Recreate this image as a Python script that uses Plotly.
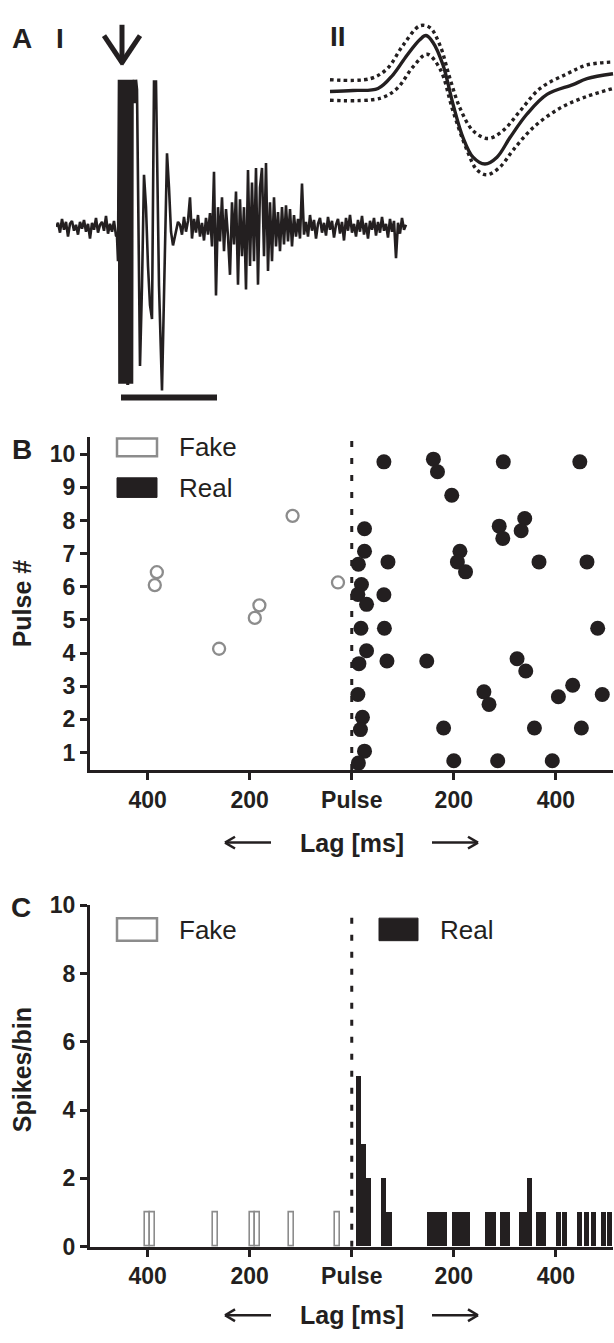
import plotly.graph_objects as go

W, H = 614, 1343
INK = "#231f20"
GRAY = "#8c8c8c"
FONT = "Liberation Sans, Arial, sans-serif"

# ---------------- Panel A-I : raw trace (time in px-units, amplitude in px-units) -------------
TRACE_T = [0, 2, 4, 6, 8, 10, 12, 14, 16, 18, 20, 22, 24, 26, 28, 30, 32, 34, 36, 38, 40, 42, 44, 46,
           48, 50, 52, 54, 56, 58, 60, 61, 62,
           63, 63.5, 64, 64.5, 65, 65.5, 66, 66.5, 67, 67.5, 68, 68.5, 69, 69.5, 70, 70.5, 71, 71.5,
           72, 72.5, 73, 73.5, 74, 74.5, 75, 75.5, 76, 76.5, 77, 78, 79, 80, 81,
           84, 86, 88, 90, 92, 94, 96, 97, 98, 100, 101, 103, 106, 108, 111, 113, 115, 117, 120, 122,
           124, 126, 128, 130, 132, 134, 136, 138, 140, 142, 144, 146, 148, 150, 152, 154, 156, 158,
           160, 162, 164, 166, 168, 170, 172, 174, 176, 178, 180, 182, 184, 186, 188, 190, 192, 194,
           196, 198, 200, 202, 204, 206, 208, 210, 212, 214, 216, 218, 220, 222, 224, 226, 228, 230,
           232, 234, 236, 238, 240, 242, 244, 246,
           248, 250, 252, 254, 256, 258, 260, 262, 264, 266, 268, 270, 272, 274, 276, 278, 280, 282,
           284, 286, 288, 290, 292, 294, 296, 298, 300, 302, 304, 306, 308, 310, 312, 314, 316, 318,
           320, 322, 324, 326, 328, 330, 332, 334, 336, 338, 340, 342, 344, 346, 348, 350]
TRACE_V = [0, 4, -6, 8, -3, 5, -10, 3, 6, -4, 2, -8, 5, -2, 7, -5, 3, -12, 4, -3, 9, -6, 2, 5,
           -4, 11, -7, 3, -5, 6, -9, -10, -35,
           150, -160, 150, -160, 150, -160, 150, -160, 150, -160, 150, -160, 150, -160, 150, -160, 150, -160,
           -160, 150, -160, 150, -160, 150, -160, 150, -160, 150, 128, 150, 126, 150, 140,
           -142, -60, 53, 20, -40, -80, -94, 20, 148, 148, 60, -60, -167, -60, 75, 40, -5, -19, -5, 5,
           2, -8, 10, -5, 6, 30, -12, 8, -6, 12, -10, 4, -14, 9, -8, 14, -20, 56,
           -70, 20, -15, 30, -25, 18, -10, -49, 25, -18, 36, -59, 28, -30, 20, -64, 58, -40,
           45, -35, 60, -59, 40, 60, -30, 65, -45, 25, -35, 30, -20, 15, -25, 20, -18, 22,
           -15, 18, -20, 12, -10, 8, -12, 44,
           -8, 5, -10, 12, -4, 7, -12, 3, 9, -6, 4, -9, 10, -3, 6, -11, 2, 8,
           -7, 5, -14, 9, -4, 12, -6, 3, -10, 7, -5, 11, -8, 4, -12, 6, -3, 9,
           -9, 5, -6, 10, -4, 3, -11, 8, -5, 6, -32, 4, -7, 9, -3, 2]

# ---------------- Panel A-II : averaged waveform with bounds -------------
WAVE_MEAN_T = [0, 23, 48, 63, 77, 90, 96, 103, 113, 123, 133, 143, 155, 167, 180, 197, 217, 243, 257, 283]
WAVE_MEAN_V = [0, 1, 3, 17, 37, 53, 57, 50, 27, -13, -47, -67, -74, -67, -47, -23, -3, 7, 13, 18]
WAVE_UP_T = [0, 40, 57, 73, 90, 100, 110, 120, 130, 143, 158, 173, 190, 210, 237, 257, 283]
WAVE_UP_V = [12, 13, 23, 47, 67, 65, 47, 13, -17, -40, -48, -40, -20, 3, 18, 27, 30]
WAVE_LO_T = [0, 50, 67, 83, 97, 110, 123, 137, 147, 157, 170, 183, 203, 230, 257, 283]
WAVE_LO_V = [-9, -7, 3, 25, 38, 23, -20, -60, -80, -85, -77, -60, -37, -17, -5, 3]

# ---------------- Panel B : raster ----------------
FAKE_LAG = [-382, -386, -260, -190, -181, -116, -27]
FAKE_PULSE = [6.44, 6.05, 4.13, 5.06, 5.44, 8.14, 6.13]
REAL_LAG = [63, 160, 168, 297, 447, 196, 25, 289, 296, 339, 332, 25, 13, 71, 212, 207, 223, 367, 461,
            19, 12, 29, 63, 18, 64, 482, 29, 14, 69, 147, 324, 341, 12, 259, 269, 405, 433, 491,
            21, 17, 180, 358, 450, 25, 13, 200, 286, 393]
REAL_PULSE = [9.77, 9.85, 9.47, 9.77, 9.77, 8.76, 7.75, 7.83, 7.46, 8.06, 7.69, 7.07, 6.68, 6.75, 7.07,
              6.75, 6.45, 6.75, 6.75, 6.07, 5.77, 5.47, 5.76, 4.75, 4.75, 4.75, 4.07, 3.68, 3.76, 3.76,
              3.83, 3.46, 2.75, 2.83, 2.45, 2.68, 3.03, 2.75, 2.06, 1.69, 1.74, 1.74, 1.74, 1.04, 0.68,
              0.75, 0.75, 0.75]

# ---------------- Panel C : histogram ----------------
BIN_W = 10
FAKE_BIN_LAG = [-400, -390, -267, -195, -185, -118, -28]
FAKE_BIN_COUNT = [1, 1, 1, 1, 1, 1, 1]
REAL_BIN_LAG = [13, 23, 33, 63, 73, 152, 162, 172, 182, 201, 211, 221, 227, 267, 277, 295, 305,
                333, 338, 348, 366, 375, 405, 417, 446, 460, 474, 494, 505]
REAL_BIN_COUNT = [5, 3, 2, 2, 1, 1, 1, 1, 1, 1, 1, 1, 1, 1, 1, 1, 1,
                  1, 1, 2, 1, 1, 1, 1, 1, 1, 1, 1, 1]

X_TICKS = [-400, -200, 0, 200, 400]
X_TICK_TEXT = ["400", "200", "Pulse", "200", "400"]
B_Y_TICKS = [1, 2, 3, 4, 5, 6, 7, 8, 9, 10]
C_Y_TICKS = [0, 2, 4, 6, 8, 10]


def fx(px):
    return px / W


def fy(py):
    return 1 - py / H


fig = go.Figure()

# A-I trace
fig.add_trace(go.Scatter(x=TRACE_T, y=TRACE_V, mode="lines", line=dict(color=INK, width=2.6),
                         xaxis="x", yaxis="y", showlegend=False, hoverinfo="skip"))
# A-II waveform
fig.add_trace(go.Scatter(x=WAVE_UP_T, y=WAVE_UP_V, mode="lines",
                         line=dict(color=INK, width=3.4, dash="dot", shape="spline"),
                         xaxis="x2", yaxis="y2", showlegend=False))
fig.add_trace(go.Scatter(x=WAVE_LO_T, y=WAVE_LO_V, mode="lines",
                         line=dict(color=INK, width=3.4, dash="dot", shape="spline"),
                         xaxis="x2", yaxis="y2", showlegend=False))
fig.add_trace(go.Scatter(x=WAVE_MEAN_T, y=WAVE_MEAN_V, mode="lines",
                         line=dict(color=INK, width=3.4, shape="spline"),
                         xaxis="x2", yaxis="y2", showlegend=False))

# B raster
fig.add_trace(go.Scatter(x=[0, 0], y=[0.47, 10.53], mode="lines",
                         line=dict(color=INK, width=3, dash="6px,11px"),
                         xaxis="x3", yaxis="y3", showlegend=False))
fig.add_trace(go.Scatter(x=FAKE_LAG, y=FAKE_PULSE, mode="markers",
                         marker=dict(symbol="circle-open", size=12, color=GRAY, line=dict(width=2.3)),
                         xaxis="x3", yaxis="y3", showlegend=False))
fig.add_trace(go.Scatter(x=REAL_LAG, y=REAL_PULSE, mode="markers",
                         marker=dict(symbol="circle", size=15, color=INK),
                         xaxis="x3", yaxis="y3", showlegend=False))

# C histogram
fig.add_trace(go.Scatter(x=[0, 0], y=[0, 9.65], mode="lines",
                         line=dict(color=INK, width=3, dash="6px,11px"),
                         xaxis="x4", yaxis="y4", showlegend=False))
fig.add_trace(go.Bar(x=FAKE_BIN_LAG, y=FAKE_BIN_COUNT, width=[BIN_W] * len(FAKE_BIN_LAG),
                     marker=dict(color="white", line=dict(color=GRAY, width=1.6)),
                     xaxis="x4", yaxis="y4", showlegend=False))
fig.add_trace(go.Bar(x=REAL_BIN_LAG, y=REAL_BIN_COUNT, width=[BIN_W] * len(REAL_BIN_LAG),
                     marker=dict(color=INK, line=dict(color=INK, width=0)),
                     xaxis="x4", yaxis="y4", showlegend=False))

axis_common = dict(showline=True, linewidth=3, linecolor=INK, ticks="outside", ticklen=7,
                   tickwidth=3, tickcolor=INK, showgrid=False, zeroline=False,
                   tickfont=dict(family=FONT, size=23, color=INK, weight="bold"))

fig.update_layout(
    width=W, height=H, margin=dict(l=0, r=0, t=0, b=0),
    paper_bgcolor="white", plot_bgcolor="white", barmode="overlay", bargap=0,
    xaxis=dict(domain=[fx(56), fx(408)], range=[0, 352], visible=False),
    yaxis=dict(domain=[fy(400), fy(8)], range=[-182, 210], visible=False),
    xaxis2=dict(domain=[fx(320), fx(614)], range=[-10, 284], visible=False),
    yaxis2=dict(domain=[fy(200), fy(0)], range=[-120, 80], visible=False),
    xaxis3=dict(domain=[fx(90), fx(613)], range=[-513, 512], tickvals=X_TICKS, ticktext=X_TICK_TEXT,
                anchor="y3", **axis_common),
    yaxis3=dict(domain=[fy(772), fy(432)], range=[0.47, 10.53], tickvals=B_Y_TICKS,
                anchor="x3", **axis_common),
    xaxis4=dict(domain=[fx(90), fx(613)], range=[-513, 512], tickvals=X_TICKS, ticktext=X_TICK_TEXT,
                anchor="y4", **axis_common),
    yaxis4=dict(domain=[fy(1258), fy(910)], range=[0, 10], tickvals=C_Y_TICKS,
                anchor="x4", **axis_common),
)

shapes = []
ann = []


def text(px, py, s, size, bold=True, anchor="center", angle=0, color=INK):
    ann.append(dict(x=fx(px), y=fy(py), xref="paper", yref="paper", text=s, showarrow=False,
                    xanchor=anchor, yanchor="middle", textangle=angle,
                    font=dict(family=FONT, size=size, color=color, weight="bold" if bold else "normal")))


def line(x0, y0, x1, y1, width, color=INK):
    shapes.append(dict(type="line", xref="paper", yref="paper", x0=fx(x0), y0=fy(y0), x1=fx(x1),
                       y1=fy(y1), line=dict(color=color, width=width)))


def rect(x0, y0, x1, y1, fill, lc, lw):
    shapes.append(dict(type="rect", xref="paper", yref="paper", x0=fx(x0), y0=fy(y0), x1=fx(x1),
                       y1=fy(y1), fillcolor=fill, line=dict(color=lc, width=lw)))


# Panel labels
text(22, 26, "A", 28)
text(60, 26, "I", 28)
text(338, 24, "II", 28)
text(22, 445, "B", 28)
text(21, 912, "C", 28)

# A-I stimulus arrow & scale bar
line(122, 12, 122, 50, 5)
line(104, 23, 123, 52, 5)
line(140, 23, 121, 52, 5)
line(121, 392, 217, 392, 6)

# Axis titles
text(22, 602, "Pulse #", 25, angle=-90)
text(22, 1078, "Spikes/bin", 25, angle=-90)

# Lag labels with arrows
for yy in (846, 1328):
    text(352, yy, "Lag [ms]", 25)
    line(225, yy, 271, yy, 2.5)
    line(225, yy, 235, yy - 6, 2.5)
    line(225, yy, 235, yy + 6, 2.5)
    line(432, yy, 478, yy, 2.5)
    line(478, yy, 468, yy - 6, 2.5)
    line(478, yy, 468, yy + 6, 2.5)

# Legend B
rect(117, 434, 157, 452, "white", GRAY, 2.5)
text(177, 443, "Fake", 26, bold=False, anchor="left")
rect(117, 474, 157, 494, INK, INK, 1)
text(177, 484, "Real", 26, bold=False, anchor="left")
# Legend C
rect(117, 923, 157, 946, "white", GRAY, 2.5)
text(177, 935, "Fake", 26, bold=False, anchor="left")
rect(379, 923, 418, 946, INK, INK, 1)
text(438, 935, "Real", 26, bold=False, anchor="left")

fig.update_layout(shapes=shapes, annotations=ann)
fig.write_html("out.html", post_script="document.body.style.margin='0';",
               config={"displayModeBar": False})
